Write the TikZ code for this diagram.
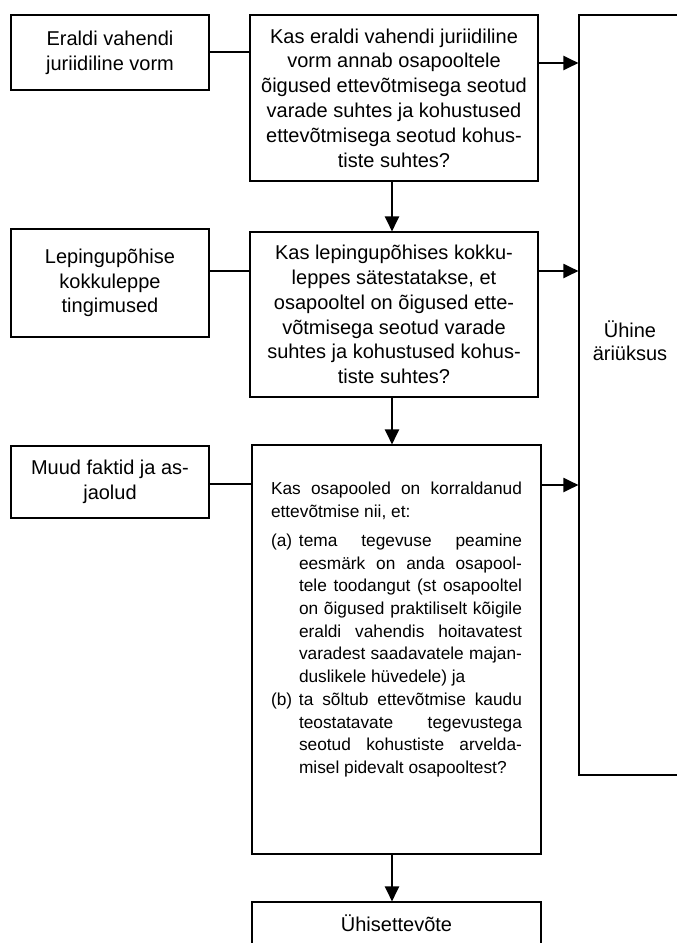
\documentclass[tikz,border=0pt]{standalone}
\usepackage{fontspec}
\setmainfont{Liberation Sans}
\usetikzlibrary{arrows.meta}
\begin{document}
\begin{tikzpicture}[x=1pt,y=-1pt,
  box/.style={draw, line width=1.1pt, inner sep=0pt, font=\fontsize{20}{24.8}\selectfont, align=center},
  bigq/.style={draw, line width=1.1pt, inner sep=0pt},
  txt/.style={inner sep=0pt, font=\fontsize{20}{23}\selectfont, align=center},
  link/.style={line width=1.1pt},
  flow/.style={line width=2pt, -{Triangle[length=15pt,width=14pt]}}]
\useasboundingbox (0,0) rectangle (677,943);
% left boxes
\node[box, minimum width=198, minimum height=75] (a) at (110,52.5) {Eraldi vahendi\\juriidiline vorm};
\node[box, minimum width=198, minimum height=108] (b) at (110,283) {Lepingupõhise\\kokkuleppe\\tingimused};
\node[box, minimum width=198, minimum height=72] (c) at (110,482) {Muud faktid ja as-\\jaolud};
% question boxes
\node[box, minimum width=288, minimum height=166] (q1) at (394,98) {Kas eraldi vahendi juriidiline\\vorm annab osapooltele\\õigused ettevõtmisega seotud\\varade suhtes ja kohustused\\ettevõtmisega seotud kohus-\\tiste suhtes?};
\node[box, minimum width=288, minimum height=165] (q2) at (394,314.5) {Kas lepingupõhises kokku-\\leppes sätestatakse, et\\osapooltel on õigused ette-\\võtmisega seotud varade\\suhtes ja kohustused kohus-\\tiste suhtes?};
\node[bigq, minimum width=289, minimum height=409] (q3) at (396.5,649.5) {\parbox{251pt}{\fontsize{17.3}{22.7}\selectfont\hyphenpenalty=10000\tolerance=10000\parindent=0pt
Kas osapooled on korraldanud\linebreak ettevõtmise nii, et:\par\vspace{6.5pt}
\hangindent=28pt\hangafter=1 \makebox[28pt][l]{(a)}tema tegevuse peamine\linebreak eesmärk on anda osapool-\linebreak tele toodangut (st osapooltel\linebreak on õigused praktiliselt kõigile\linebreak eraldi vahendis hoitavatest\linebreak varadest saadavatele majan-\linebreak duslikele hüvedele) ja\par
\hangindent=28pt\hangafter=1 \makebox[28pt][l]{(b)}ta sõltub ettevõtmise kaudu\linebreak teostatavate tegevustega\linebreak seotud kohustiste arvelda-\linebreak misel pidevalt osapooltest?\par
\vspace{40pt}}};
% right big box
\node[bigq, minimum width=120, minimum height=760] (big) at (639,395) {};
\node[txt] (bigtext) at (630,341) {Ühine\\äriüksus};
% bottom box
\node[box, minimum width=289, minimum height=44] (d) at (396.5,924) {\raisebox{2pt}{Ühisettevõte}};
% links
\draw[link] (a.east |- 0,52) -- (q1.west |- 0,52);
\draw[link] (b.east |- 0,271) -- (q2.west |- 0,271);
\draw[link] (c.east |- 0,484) -- (q3.west |- 0,484);
% flow arrows
\draw[flow] (q1.south -| 392,0) -- (q2.north -| 392,0);
\draw[flow] (q2.south -| 392,0) -- (q3.north -| 392,0);
\draw[flow] (q3.south -| 392,0) -- (d.north -| 392,0);
\draw[flow] (q1.east |- 0,63) -- (big.west |- 0,63);
\draw[flow] (q2.east |- 0,271) -- (big.west |- 0,271);
\draw[flow] (q3.east |- 0,485) -- (big.west |- 0,485);
\end{tikzpicture}
\end{document}
